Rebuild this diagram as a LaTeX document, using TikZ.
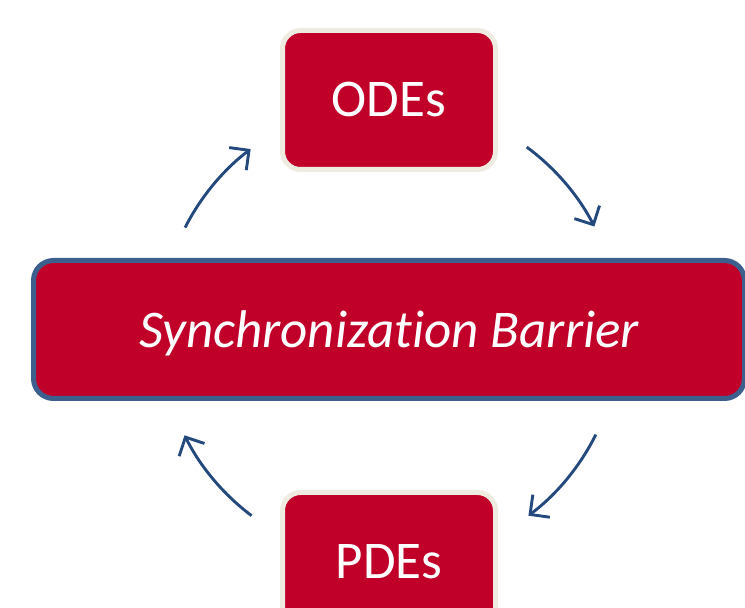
\documentclass[tikz,border=0pt]{standalone}
\usepackage{fontspec}
\setmainfont[Ligatures=NoCommon]{Carlito}
\usetikzlibrary{arrows.meta,calc}

\definecolor{boxred}{HTML}{C00028}
\definecolor{creamline}{HTML}{EEECE1}
\definecolor{barrierline}{HTML}{3C5F8E}
\definecolor{flowblue}{HTML}{24497D}

\tikzset{
  stage/.style={draw=creamline, fill=boxred, line width=5pt,
    rounded corners=18pt, minimum width=213pt, minimum height=139pt,
    text=white, font=\fontsize{53}{60}\selectfont, inner sep=0pt},
  barrier/.style={draw=barrierline, fill=boxred, line width=5pt,
    rounded corners=20pt, minimum width=711pt, minimum height=138pt,
    text=white, font=\fontsize{53}{60}\selectfont\itshape, inner sep=0pt,
    text depth=0pt},
  flow/.style={draw=flowblue, line width=2.9pt,
    -{Straight Barb[angle=90:20pt, line width=2.9pt]}},
}

\begin{document}
\begin{tikzpicture}[x=1pt, y=1pt]
  \useasboundingbox (0,0) rectangle (745,608);

  \node[stage]   (odes)    at (389,508)   {ODEs};
  \node[barrier] (barrier) at (389,278.5) {Synchronization Barrier};
  \node[stage]   (pdes)    at (389,46)    {PDEs};

  % the cycle runs on a circle around the barrier's centre
  \coordinate (hub) at (390,276);
  \coordinate (upL)   at ($(hub)+(153:230)$);
  \coordinate (upR)   at ($(hub)+(53.5:230)$);
  \coordinate (downR) at ($(hub)+(-26.5:230)$);
  \coordinate (downL) at ($(hub)+(-127:230)$);

  \draw[flow] (upL)   arc[start angle=153,   end angle=127.3, radius=230];
  \draw[flow] (upR)   arc[start angle=53.5,  end angle=27.3,  radius=230];
  \draw[flow] (downR) arc[start angle=-26.5, end angle=-53,   radius=230];
  \draw[flow] (downL) arc[start angle=-127,  end angle=-153.3,radius=230];
\end{tikzpicture}
\end{document}
